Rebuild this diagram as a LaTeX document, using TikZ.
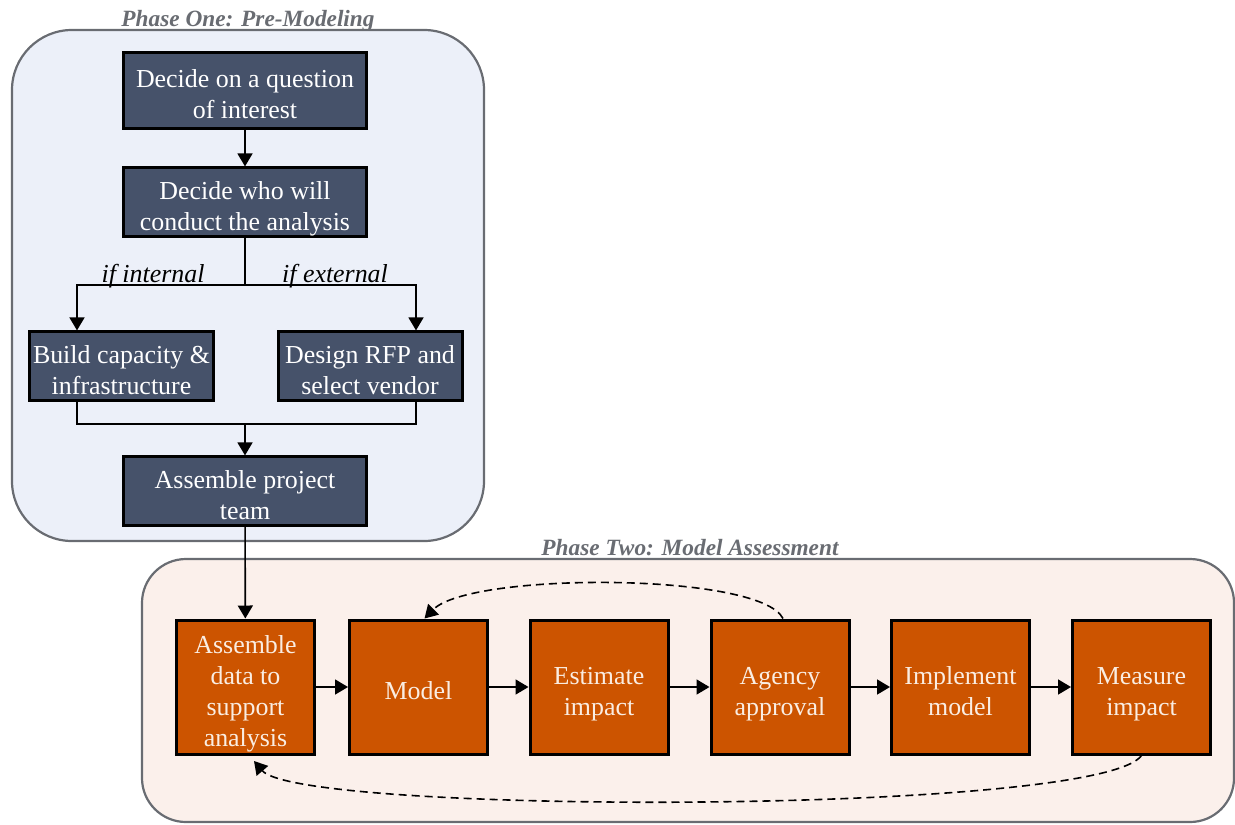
\documentclass[tikz,border=0pt]{standalone}
\usepackage{fontspec}
\setmainfont{Liberation Serif}
\usetikzlibrary{arrows.meta,positioning}
\definecolor{slate}{RGB}{70,82,106}
\definecolor{burnt}{RGB}{204,84,0}
\definecolor{phaseblue}{RGB}{236,240,249}
\definecolor{phasepeach}{RGB}{251,240,235}
\definecolor{framegray}{RGB}{105,108,114}
\definecolor{cream}{RGB}{250,237,226}

\begin{document}
\begin{tikzpicture}[x=0.5bp, y=-0.5bp,
    every node/.style={font=\fontsize{13}{15.5}\selectfont},
    phase/.style={draw=framegray, line width=1.1bp, inner sep=0pt},
    phasetitle/.style={font=\fontsize{11.7}{14}\selectfont\bfseries\itshape, text=framegray, anchor=base, inner sep=0pt},
    boxtext/.style={align=center, inner xsep=1bp, inner ysep=0pt, text height=31.2bp, text depth=2.9bp},
    oneline/.style={text height=15.7bp},
    fourline/.style={text height=62.2bp},
    stepbox/.style={boxtext, draw=black, line width=1.5bp, fill=slate, text=white, minimum width=121bp, minimum height=34bp},
    taskbox/.style={boxtext, draw=black, line width=1.5bp, fill=burnt, text=cream, minimum width=69bp, minimum height=67bp},
    flow/.style={line width=0.8bp, -{Triangle[length=6.5bp,width=7.5bp]}},
    branch/.style={font=\fontsize{13}{15.5}\selectfont\itshape, anchor=base, inner sep=0pt}]
    \useasboundingbox (0,0) rectangle (1235,824);

    % the two phases
    \node[phase, fill=phaseblue, rounded corners=30bp, minimum width=236bp, minimum height=255.5bp] (phaseone) at (248,285.5) {};
    \node[phase, fill=phasepeach, rounded corners=22bp, minimum width=546bp, minimum height=131.5bp] (phasetwo) at (688,690.5) {};
    \node[phasetitle] (titleone) at (248,26) {Phase One: Pre-Modeling};
    \node[phasetitle] (titletwo) at (690,555) {Phase Two: Model Assessment};

    % phase one
    \node[stepbox, minimum height=38bp] (question) at (245,90) {Decide on a question\\of interest};
    \node[stepbox] (who) at (245,202) {Decide who will\\conduct the analysis};
    \node[stepbox, minimum width=91.5bp] (build) at (121.5,366) {Build capacity \&\\infrastructure};
    \node[stepbox, minimum width=92bp] (rfp) at (370,366) {Design RFP and\\select vendor};
    \node[stepbox] (team) at (245,491) {Assemble project\\team};

    \coordinate (split) at (245,285);
    \coordinate (merge) at (245,424);
    \draw[flow] (question) -- (who);
    \draw[flow] (who) -- (split) -| ([xshift=-22.25bp]build.north);
    \draw[flow] (split) -| ([xshift=23bp]rfp.north);
    \node[branch] (ifint) at (153,282) {if internal};
    \node[branch] (ifext) at (335,282) {if external};
    \draw[line width=0.8bp] ([xshift=-22.25bp]build.south) |- (merge) -| ([xshift=23bp]rfp.south);
    \draw[flow] (merge) -- (team);

    % phase two
    \node[taskbox, fourline] (data) at (245.5,687) {Assemble\\data to\\support\\analysis};
    \node[taskbox, oneline] (model) at (418.5,687) {Model};
    \node[taskbox] (estimate) at (599,687) {Estimate\\impact};
    \node[taskbox] (approval) at (780,687) {Agency\\approval};
    \node[taskbox] (implement) at (960.5,687) {Implement\\model};
    \node[taskbox] (measure) at (1141.5,687) {Measure\\impact};

    \draw[flow] (team) -- (data);
    \draw[flow] (data) -- (model);
    \draw[flow] (model) -- (estimate);
    \draw[flow] (estimate) -- (approval);
    \draw[flow] (approval) -- (implement);
    \draw[flow] (implement) -- (measure);

    % feedback loops
    \draw[flow, dash pattern=on 4bp off 2.5bp] ([xshift=1.5bp]approval.north) .. controls (760,572) and (470,572) .. ([xshift=3bp]model.north);
    \draw[flow, dash pattern=on 4bp off 2.5bp] (measure.south) .. controls (1100,815) and (300,815) .. ([xshift=4.25bp,yshift=-2.75bp]data.south);
\end{tikzpicture}
\end{document}
